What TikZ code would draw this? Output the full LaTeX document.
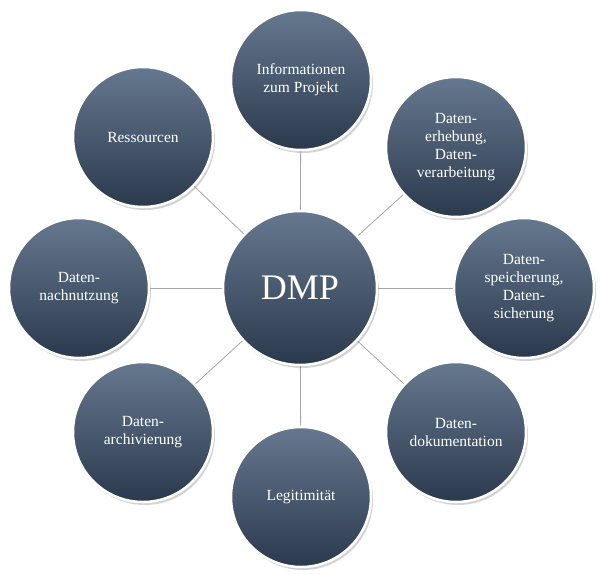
\documentclass[tikz,border=0pt]{standalone}
\usepackage{fontspec}
\setmainfont{Liberation Serif}
\usetikzlibrary{shadows}
\definecolor{ctop}{HTML}{66788F}
\definecolor{cbot}{HTML}{2B394D}
\begin{document}
\begin{tikzpicture}[x=1pt,y=-1pt,
  circ/.style={circle,minimum size=140pt,inner sep=0pt,draw=white,line width=2.5pt,
    top color=ctop,bottom color=cbot,
    text=white,align=center,font=\fontsize{15.5}{18}\selectfont,
    drop shadow={shadow xshift=2pt,shadow yshift=-3pt,opacity=0.35}},
  link/.style={draw=gray!70,line width=0.8pt}]
\useasboundingbox (0,0) rectangle (600,574);
\foreach \n/\p in {t/{(301,80)},tr/{(456,147)},r/{(524,288)},br/{(456,432)},b/{(301,497)},bl/{(143,432)},l/{(79,288)},tl/{(143,137)}}{\path[link] (300,288) -- \p;}
\node[circ,minimum size=154pt,font=\fontsize{36}{40}\selectfont] (c) at (300,288) {DMP};
\node[circ] (t) at (301,80) {Informationen\\zum Projekt};
\node[circ] (tr) at (456,147) {Daten-\\erhebung,\\Daten-\\verarbeitung};
\node[circ] (r) at (524,288) {Daten-\\speicherung,\\Daten-\\sicherung};
\node[circ] (br) at (456,432) {Daten-\\dokumentation};
\node[circ] (b) at (301,497) {Legitimität};
\node[circ] (bl) at (143,432) {Daten-\\archivierung};
\node[circ] (l) at (79,288) {Daten-\\nachnutzung};
\node[circ] (tl) at (143,137) {Ressourcen};
\end{tikzpicture}
\end{document}
